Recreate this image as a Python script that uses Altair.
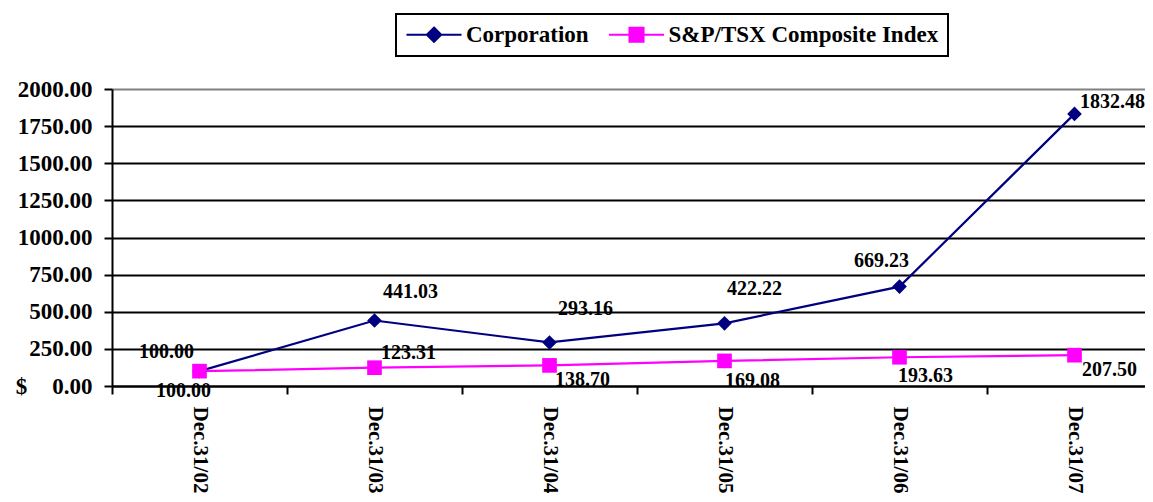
import altair as alt
import pandas as pd

# ---- data ----
dates = ["Dec.31/02", "Dec.31/03", "Dec.31/04", "Dec.31/05", "Dec.31/06", "Dec.31/07"]
corporation = [100.00, 441.03, 293.16, 422.22, 669.23, 1832.48]
tsx_index = [100.00, 123.31, 138.70, 169.08, 193.63, 207.50]
series_names = ["Corporation", "S&P/TSX Composite Index"]
y_ticks = [0, 250, 500, 750, 1000, 1250, 1500, 1750, 2000]

# ---- label offsets (style, not data) ----
corp_dx = [-33, 36, 36, 30, -18, 38]
corp_dy = [-19, -29, -33, -34, -26, -12]
tsx_dx = [-16, 34, 33, 28, 26, 35]
tsx_dy = [20, -15, 15, 20, 19, 15]

rows = []
for i, d in enumerate(dates):
    rows.append({"date": d, "series": series_names[0], "value": corporation[i], "idx": i})
    rows.append({"date": d, "series": series_names[1], "value": tsx_index[i], "idx": i})
df = pd.DataFrame(rows)

FONT = "Liberation Serif"
colors = ["#000080", "#FF00FF"]

x_enc = alt.X(
    "date:N",
    sort=dates,
    scale=alt.Scale(type="band", domain=dates, paddingInner=0, paddingOuter=0, range=[0, 1050]),
    axis=alt.Axis(
        title=None, labelAngle=90, labelAlign="left", labelBaseline="middle",
        labelFont=FONT, labelFontSize=21, labelFontWeight="bold", labelColor="black",
        labelPadding=12, tickBand="extent", tickSize=8, tickColor="black", tickWidth=2,
        domainColor="black", domainWidth=2, grid=False,
    ),
)

y_enc = alt.Y(
    "value:Q",
    scale=alt.Scale(domain=[0, 2000], nice=False),
    axis=alt.Axis(
        values=y_ticks, format=".2f",
        title="$", titleAngle=0, titleX=-91, titleY=297, titleAlign="center",
        titleBaseline="middle", titleFont=FONT, titleFontSize=23, titleFontWeight="bold",
        titleColor="black",
        labelFont=FONT, labelFontSize=23, labelFontWeight="bold", labelColor="black",
        labelPadding=12, tickSize=8, tickColor="black", tickWidth=2,
        domainColor="black", domainWidth=2,
        grid=True, gridWidth=2,
        gridColor={"condition": {"test": "datum.value === 2000", "value": "#808080"}, "value": "black"},
    ),
)

corp_path = "M-3.44,0H3.44M0,-0.9L0.9,0L0,0.9L-0.9,0Z"
tsx_path = "M-3.44,0H3.44M-0.88,-0.88H0.88V0.88H-0.88Z"

legend = alt.Legend(
    title=None, orient="none", legendX=284, legendY=-75, direction="horizontal",
    labelFont=FONT, labelFontSize=23, labelFontWeight="bold", labelColor="black",
    labelLimit=500,
    symbolSize=256, symbolOffset=17.5, labelOffset=20.5, columnPadding=15.5,
    padding=9, strokeColor="black", symbolStrokeWidth=2, symbolOpacity=1,
)

base = alt.Chart(df)

lines = base.mark_line(strokeWidth=2.2).encode(
    x=x_enc, y=y_enc,
    color=alt.Color("series:N", scale=alt.Scale(domain=series_names, range=colors), legend=None),
)
points = base.mark_point(filled=True, opacity=1, size=215).encode(
    x=x_enc, y=y_enc,
    color=alt.Color("series:N", scale=alt.Scale(domain=series_names, range=colors), legend=None),
    shape=alt.Shape("series:N", scale=alt.Scale(domain=series_names, range=["diamond", "square"]), legend=None),
)

# legend-only layer (no marks drawn: every row filtered out)
legend_layer = base.transform_filter("false").mark_point(filled=True, opacity=1, size=256, strokeWidth=2).encode(
    color=alt.Color("series:N", scale=alt.Scale(domain=series_names, range=colors), legend=legend),
    stroke=alt.Stroke("series:N", scale=alt.Scale(domain=series_names, range=colors), legend=legend),
    shape=alt.Shape("series:N", scale=alt.Scale(domain=series_names, range=[corp_path, tsx_path]), legend=legend),
)

layers = [lines, points]
for i in range(len(dates)):
    layers.append(
        base.transform_filter(
            (alt.datum.series == series_names[0]) & (alt.datum.idx == i)
        ).mark_text(
            font=FONT, fontSize=20, fontWeight="bold", color="black",
            dx=corp_dx[i], dy=corp_dy[i], align="center", baseline="middle",
        ).encode(x=x_enc, y=y_enc, text=alt.Text("value:Q", format=".2f"))
    )
    layers.append(
        base.transform_filter(
            (alt.datum.series == series_names[1]) & (alt.datum.idx == i)
        ).mark_text(
            font=FONT, fontSize=20, fontWeight="bold", color="black",
            dx=tsx_dx[i], dy=tsx_dy[i], align="center", baseline="middle",
        ).encode(x=x_enc, y=y_enc, text=alt.Text("value:Q", format=".2f"))
    )
layers.append(legend_layer)

chart = alt.layer(*layers).resolve_scale(
    color="independent", shape="independent", stroke="independent"
).properties(
    width=1033, height=297,
    autosize=alt.AutoSizeParams(type="none"),
    padding={"left": 104, "top": 81, "right": 0, "bottom": 108},
).configure_view(strokeWidth=0).configure_legend(strokeWidth=2)

chart.save("out.html", embed_options={"renderer": "svg", "actions": False})
